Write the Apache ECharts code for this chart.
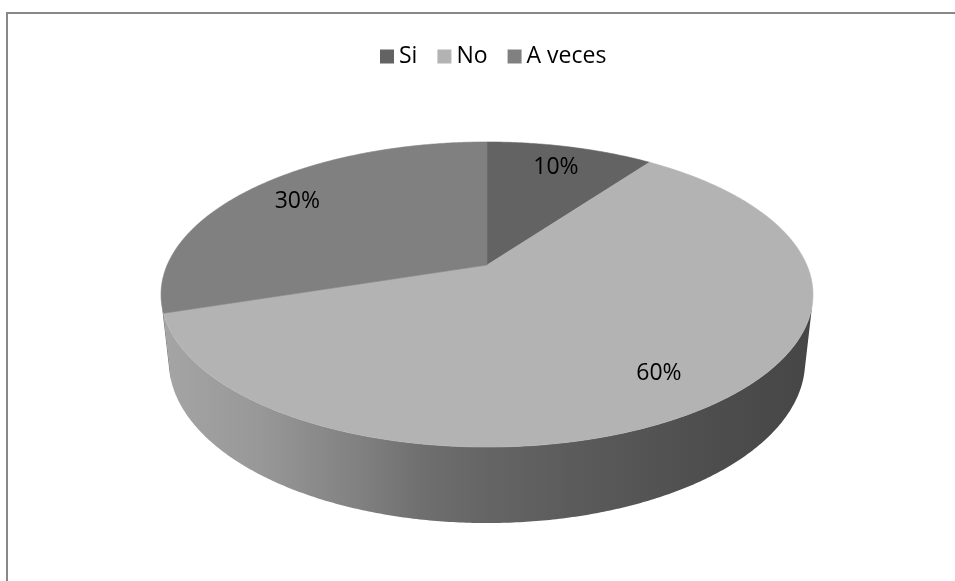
<!DOCTYPE html>
<html>
<head>
<meta charset="utf-8">
<script src="https://cdn.jsdelivr.net/npm/echarts@6/dist/echarts.min.js"></script>
<style>
  html, body { margin: 0; padding: 0; background: #fff; }
  #frame { position: absolute; left: 6px; top: 12px; width: 960px; height: 600px;
           border-left: 2px solid #888; border-top: 2px solid #888; box-sizing: border-box; }
  #chart { position: absolute; left: 0; top: 0; width: 955px; height: 581px; }
</style>
</head>
<body>
<div id="frame"></div>
<div id="chart"></div>
<script>
// ---- data ----
const categories = ['Si', 'No', 'A veces'];
const values = [10, 60, 30];
const sliceColors = ['#636363', '#b3b3b3', '#808080'];

// ---- 3D projection parameters (perspective pie) ----
const CX = 487, CY = 265;
const D = 4.591, F = 1468.2;
const ALPHA = 27.33 * Math.PI / 180;
const SIN_A = Math.sin(ALPHA), COS_A = Math.cos(ALPHA);
const H = 0.2373;
const LABEL_R = 0.8;
const WALL_X0 = 161, WALL_X1 = 813;
// brightness of the side wall relative to the top colour, along the x span
const wallShade = [[0, 0.92], [0.15, 0.85], [0.3, 0.72], [0.4, 0.62], [0.5, 0.565], [0.65, 0.5], [0.85, 0.43], [1, 0.39]];

const total = values.reduce((a, b) => a + b, 0);

function project(theta, r, zh) {
  const X = r * Math.sin(theta), Yb = r * Math.cos(theta);
  const depth = D + Yb * COS_A - zh * SIN_A;
  return [CX + F * X / depth, CY - F * (Yb * SIN_A + zh * COS_A) / depth];
}
function shadeColor(hex, f) {
  const n = parseInt(hex.slice(1), 16);
  const r = Math.round(((n >> 16) & 255) * f), g = Math.round(((n >> 8) & 255) * f), b = Math.round((n & 255) * f);
  return 'rgb(' + r + ',' + g + ',' + b + ')';
}

const FRONT_LIMIT = Math.acos(-1 / (D * COS_A));

function makeRender(i) {
  return function (params, api) {
    const v = api.value(0);
    const before = values.slice(0, i).reduce((a, b) => a + b, 0);
    const a0 = before / total * Math.PI * 2;
    const a1 = (before + v) / total * Math.PI * 2;
    const step = Math.PI / 360;
    const children = [];

    // top face
    const top = [project(0, 0, 0)];
    const n = Math.max(2, Math.ceil((a1 - a0) / step));
    for (let k = 0; k <= n; k++) top.push(project(a0 + (a1 - a0) * k / n, 1, 0));
    children.push({
      type: 'polygon', z2: 10, shape: { points: top },
      style: { fill: sliceColors[i], stroke: sliceColors[i], lineWidth: 0.6 }
    });

    // front-facing outer wall
    const w0 = Math.max(a0, FRONT_LIMIT), w1 = Math.min(a1, Math.PI * 2 - FRONT_LIMIT);
    if (w1 > w0) {
      const m = Math.max(2, Math.ceil((w1 - w0) / step));
      const up = [], down = [];
      for (let k = 0; k <= m; k++) {
        const t = w0 + (w1 - w0) * k / m;
        up.push(project(t, 1, 0));
        down.push(project(t, 1, -H));
      }
      const pts = up.concat(down.reverse());
      children.push({
        type: 'polygon', z2: 1, shape: { points: pts },
        style: {
          fill: {
            type: 'linear', x: WALL_X0, y: 0, x2: WALL_X1, y2: 0, global: true,
            colorStops: wallShade.map(s => ({ offset: s[0], color: shadeColor(sliceColors[i], s[1]) }))
          },
          stroke: null
        }
      });
    }

    // percentage label
    const mid = (a0 + a1) / 2;
    const lp = project(mid, LABEL_R, 0);
    children.push({
      type: 'text', z2: 20, x: lp[0], y: lp[1],
      style: {
        text: Math.round(v / total * 100) + '%',
        fill: '#000', fontSize: 23, fontFamily: 'Open Sans',
        align: 'center', verticalAlign: 'middle'
      }
    });
    return { type: 'group', children: children };
  };
}

const chart = echarts.init(document.getElementById('chart'), null, { renderer: 'canvas' });
chart.setOption({
  animation: false,
  backgroundColor: 'transparent',
  color: sliceColors,
  legend: {
    top: 40, left: 375, icon: 'rect', itemWidth: 14, itemHeight: 14, itemGap: 20,
    selectedMode: false,
    data: categories,
    textStyle: { fontSize: 23, fontFamily: 'Open Sans', color: '#000' }
  },
  series: categories.map((name, i) => ({
    type: 'custom', name: name, coordinateSystem: 'none',
    itemStyle: { color: sliceColors[i] },
    data: [[values[i]]],
    renderItem: makeRender(i)
  }))
});
</script>
</body>
</html>
